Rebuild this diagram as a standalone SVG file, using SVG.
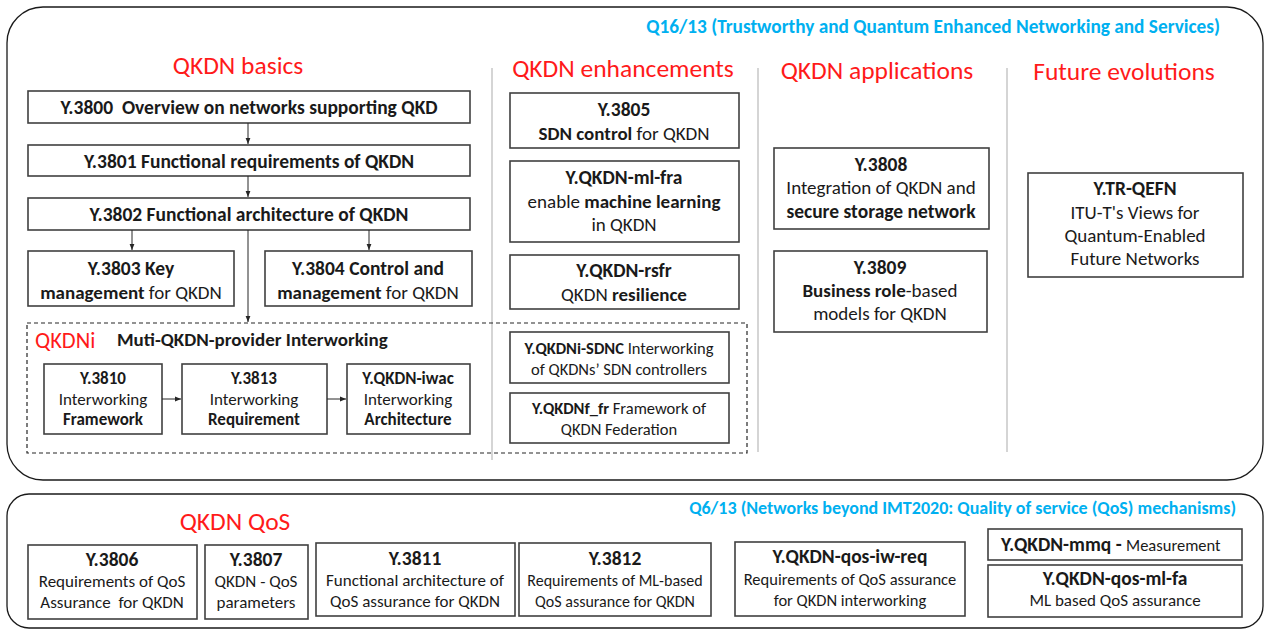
<svg xmlns="http://www.w3.org/2000/svg" width="1268" height="635" viewBox="0 0 1268 635">
  <defs>
    <marker id="arr" viewBox="0 0 10 10" refX="10" refY="5" markerWidth="6" markerHeight="6" orient="auto">
      <path d="M0,1 L10,5 L0,9 z" fill="#262626"/>
    </marker>
    <style>
      text { font-family: Carlito, Lato, "Open Sans", sans-serif; fill: #1a1a1a; }
      .frame { fill: #fff; stroke: #1a1a1a; stroke-width: 1.3; }
      .box { fill: #fff; stroke: #404040; stroke-width: 1.6; }
      .sep { stroke: #bfbfbf; stroke-width: 1.3; }
      .dash { fill: none; stroke: #262626; stroke-width: 1.2; stroke-dasharray: 4 3; }
      .con { stroke: #262626; stroke-width: 1; fill: none; marker-end: url(#arr); }
      .head { fill: #ff1a1a; font-size: 25.5px; }
      .grp { fill: #00b0f0; font-weight: bold; }
      .t { font-size: 19px; text-anchor: middle; }
      .s { font-size: 17px; text-anchor: middle; }
      .n { font-size: 16.5px; text-anchor: middle; }
      .m { font-size: 16px; text-anchor: middle; }
      .q { font-size: 19.5px; font-weight: bold; text-anchor: middle; }
      .b { font-weight: bold; }
      .t.b { font-size: 19.5px; }
    </style>
  </defs>

  <!-- Q16/13 study group frame -->
  <rect class="frame" x="7" y="7" width="1256" height="473" rx="36"/>
  <text class="grp" x="1220" y="33" text-anchor="end" style="font-size:19.3px">Q16/13 (Trustworthy and Quantum Enhanced Networking and Services)</text>

  <line class="sep" x1="492" y1="68" x2="492" y2="460"/>
  <line class="sep" x1="758" y1="68" x2="758" y2="452"/>
  <line class="sep" x1="1007" y1="68" x2="1007" y2="452"/>

  <text class="head" x="238" y="74" text-anchor="middle">QKDN basics</text>
  <text class="head" x="623" y="77" text-anchor="middle">QKDN enhancements</text>
  <text class="head" x="877" y="79" text-anchor="middle">QKDN applications</text>
  <text class="head" x="1124" y="80" text-anchor="middle">Future evolutions</text>

  <!-- QKDN basics -->
  <g id="y3800">
    <rect class="box" x="28" y="91" width="442" height="32"/>
    <text class="t b" x="249" y="114" xml:space="preserve">Y.3800  Overview on networks supporting QKD</text>
  </g>
  <g id="y3801">
    <rect class="box" x="28" y="145" width="442" height="31"/>
    <text class="t b" x="249" y="168">Y.3801 Functional requirements of QKDN</text>
  </g>
  <g id="y3802">
    <rect class="box" x="28" y="198" width="442" height="32"/>
    <text class="t b" x="249" y="221">Y.3802 Functional architecture of QKDN</text>
  </g>
  <g id="y3803">
    <rect class="box" x="28" y="251" width="206" height="55"/>
    <text class="t b" x="131" y="275">Y.3803 Key</text>
    <text class="t" x="131" y="299"><tspan class="b">management</tspan> for QKDN</text>
  </g>
  <g id="y3804">
    <rect class="box" x="265" y="251" width="207" height="55"/>
    <text class="t b" x="368" y="275">Y.3804 Control and</text>
    <text class="t" x="368" y="299"><tspan class="b">management</tspan> for QKDN</text>
  </g>

  <!-- QKDNi interworking area -->
  <g id="qkdni">
    <rect class="dash" x="27" y="323" width="720" height="130"/>
    <text x="35" y="348" style="fill:#ff1a1a;font-size:22.5px">QKDNi</text>
    <text x="117" y="346" class="b" style="font-size:19px">Muti-QKDN-provider Interworking</text>
  </g>
  <g id="y3810">
    <rect class="box" x="44" y="364" width="118" height="70"/>
    <text class="s b" x="103" y="384">Y.3810</text>
    <text class="s" x="103" y="405">Interworking</text>
    <text class="s b" x="103" y="425">Framework</text>
  </g>
  <g id="y3813">
    <rect class="box" x="182" y="364" width="145" height="70"/>
    <text class="s b" x="254" y="384">Y.3813</text>
    <text class="s" x="254" y="405">Interworking</text>
    <text class="s b" x="254" y="425">Requirement</text>
  </g>
  <g id="yiwac">
    <rect class="box" x="347" y="364" width="123" height="70"/>
    <text class="s b" x="408" y="384">Y.QKDN-iwac</text>
    <text class="s" x="408" y="405">Interworking</text>
    <text class="s b" x="408" y="425">Architecture</text>
  </g>
  <g id="ysdnc">
    <rect class="box" x="510" y="332" width="219" height="51"/>
    <text class="n" x="619" y="354"><tspan class="b">Y.QKDNi-SDNC</tspan> Interworking</text>
    <text class="n" x="619" y="375">of QKDNs’ SDN controllers</text>
  </g>
  <g id="yfr">
    <rect class="box" x="510" y="393" width="219" height="50"/>
    <text class="n" x="619" y="414"><tspan class="b">Y.QKDNf_fr</tspan> Framework of</text>
    <text class="n" x="619" y="435">QKDN Federation</text>
  </g>

  <!-- QKDN enhancements -->
  <g id="y3805">
    <rect class="box" x="510" y="93" width="229" height="55"/>
    <text class="t b" x="624" y="116">Y.3805</text>
    <text class="t" x="624" y="140"><tspan class="b">SDN control</tspan> for QKDN</text>
  </g>
  <g id="ymlfra">
    <rect class="box" x="510" y="161" width="229" height="81"/>
    <text class="t b" x="624" y="184">Y.QKDN-ml-fra</text>
    <text class="t" x="624" y="208">enable <tspan class="b">machine learning</tspan></text>
    <text class="t" x="624" y="231">in QKDN</text>
  </g>
  <g id="yrsfr">
    <rect class="box" x="510" y="255" width="229" height="54"/>
    <text class="t b" x="624" y="277">Y.QKDN-rsfr</text>
    <text class="t" x="624" y="301">QKDN <tspan class="b">resilience</tspan></text>
  </g>

  <!-- QKDN applications -->
  <g id="y3808">
    <rect class="box" x="774" y="148" width="215" height="81"/>
    <text class="t b" x="881" y="171">Y.3808</text>
    <text class="t" x="881" y="194">Integration of QKDN and</text>
    <text class="t b" x="881" y="218">secure storage network</text>
  </g>
  <g id="y3809">
    <rect class="box" x="774" y="251" width="213" height="81"/>
    <text class="t b" x="880" y="274">Y.3809</text>
    <text class="t" x="880" y="297"><tspan class="b">Business role</tspan>-based</text>
    <text class="t" x="880" y="320">models for QKDN</text>
  </g>

  <!-- Future evolutions -->
  <g id="yqefn">
    <rect class="box" x="1028" y="173" width="215" height="104"/>
    <text class="t b" x="1135" y="195">Y.TR-QEFN</text>
    <text class="t" x="1135" y="219">ITU-T's Views for</text>
    <text class="t" x="1135" y="242">Quantum-Enabled</text>
    <text class="t" x="1135" y="265">Future Networks</text>
  </g>

  <!-- connectors -->
  <g id="connectors">
    <line class="con" x1="248" y1="123" x2="248" y2="144"/>
    <line class="con" x1="248" y1="176" x2="248" y2="197"/>
    <line class="con" x1="132" y1="230" x2="132" y2="250"/>
    <line class="con" x1="369" y1="230" x2="369" y2="250"/>
    <line class="con" x1="248" y1="230" x2="248" y2="322"/>
    <line class="con" x1="162" y1="399" x2="181" y2="399"/>
    <line class="con" x1="327" y1="399" x2="346" y2="399"/>
  </g>

  <!-- Q6/13 study group frame -->
  <rect class="frame" x="7" y="494" width="1256" height="134" rx="22"/>
  <text class="grp" x="1236" y="514" text-anchor="end" style="font-size:18px">Q6/13 (Networks beyond IMT2020: Quality of service (QoS) mechanisms)</text>
  <text class="head" x="235" y="530" text-anchor="middle">QKDN QoS</text>

  <g id="y3806">
    <rect class="box" x="28" y="545" width="169" height="74"/>
    <text class="q" x="112" y="566">Y.3806</text>
    <text class="s" x="112" y="587">Requirements of QoS</text>
    <text class="s" x="112" y="608" xml:space="preserve">Assurance  for QKDN</text>
  </g>
  <g id="y3807">
    <rect class="box" x="205" y="545" width="103" height="74"/>
    <text class="q" x="256" y="566">Y.3807</text>
    <text class="s" x="256" y="587">QKDN - QoS</text>
    <text class="s" x="256" y="608">parameters</text>
  </g>
  <g id="y3811">
    <rect class="box" x="316" y="543" width="199" height="73"/>
    <text class="q" x="415" y="565">Y.3811</text>
    <text class="s" x="415" y="586">Functional architecture of</text>
    <text class="s" x="415" y="607">QoS assurance for QKDN</text>
  </g>
  <g id="y3812">
    <rect class="box" x="519" y="543" width="192" height="73"/>
    <text class="q" x="615" y="565">Y.3812</text>
    <text class="m" x="615" y="586">Requirements of ML-based</text>
    <text class="m" x="615" y="607">QoS assurance for QKDN</text>
  </g>
  <g id="yqosiw">
    <rect class="box" x="735" y="542" width="230" height="74"/>
    <text class="q" x="850" y="563">Y.QKDN-qos-iw-req</text>
    <text class="n" x="850" y="585">Requirements of QoS assurance</text>
    <text class="n" x="850" y="606">for QKDN interworking</text>
  </g>
  <g id="ymmq">
    <rect class="box" x="988" y="529" width="254" height="31"/>
    <text x="1001" y="551"><tspan class="b" style="font-size:19.5px">Y.QKDN-mmq - </tspan><tspan style="font-size:16.5px"> Measurement</tspan></text>
  </g>
  <g id="yqosml">
    <rect class="box" x="988" y="565" width="254" height="52"/>
    <text class="q" x="1115" y="585">Y.QKDN-qos-ml-fa</text>
    <text class="s" x="1115" y="606">ML based QoS assurance</text>
  </g>
</svg>
